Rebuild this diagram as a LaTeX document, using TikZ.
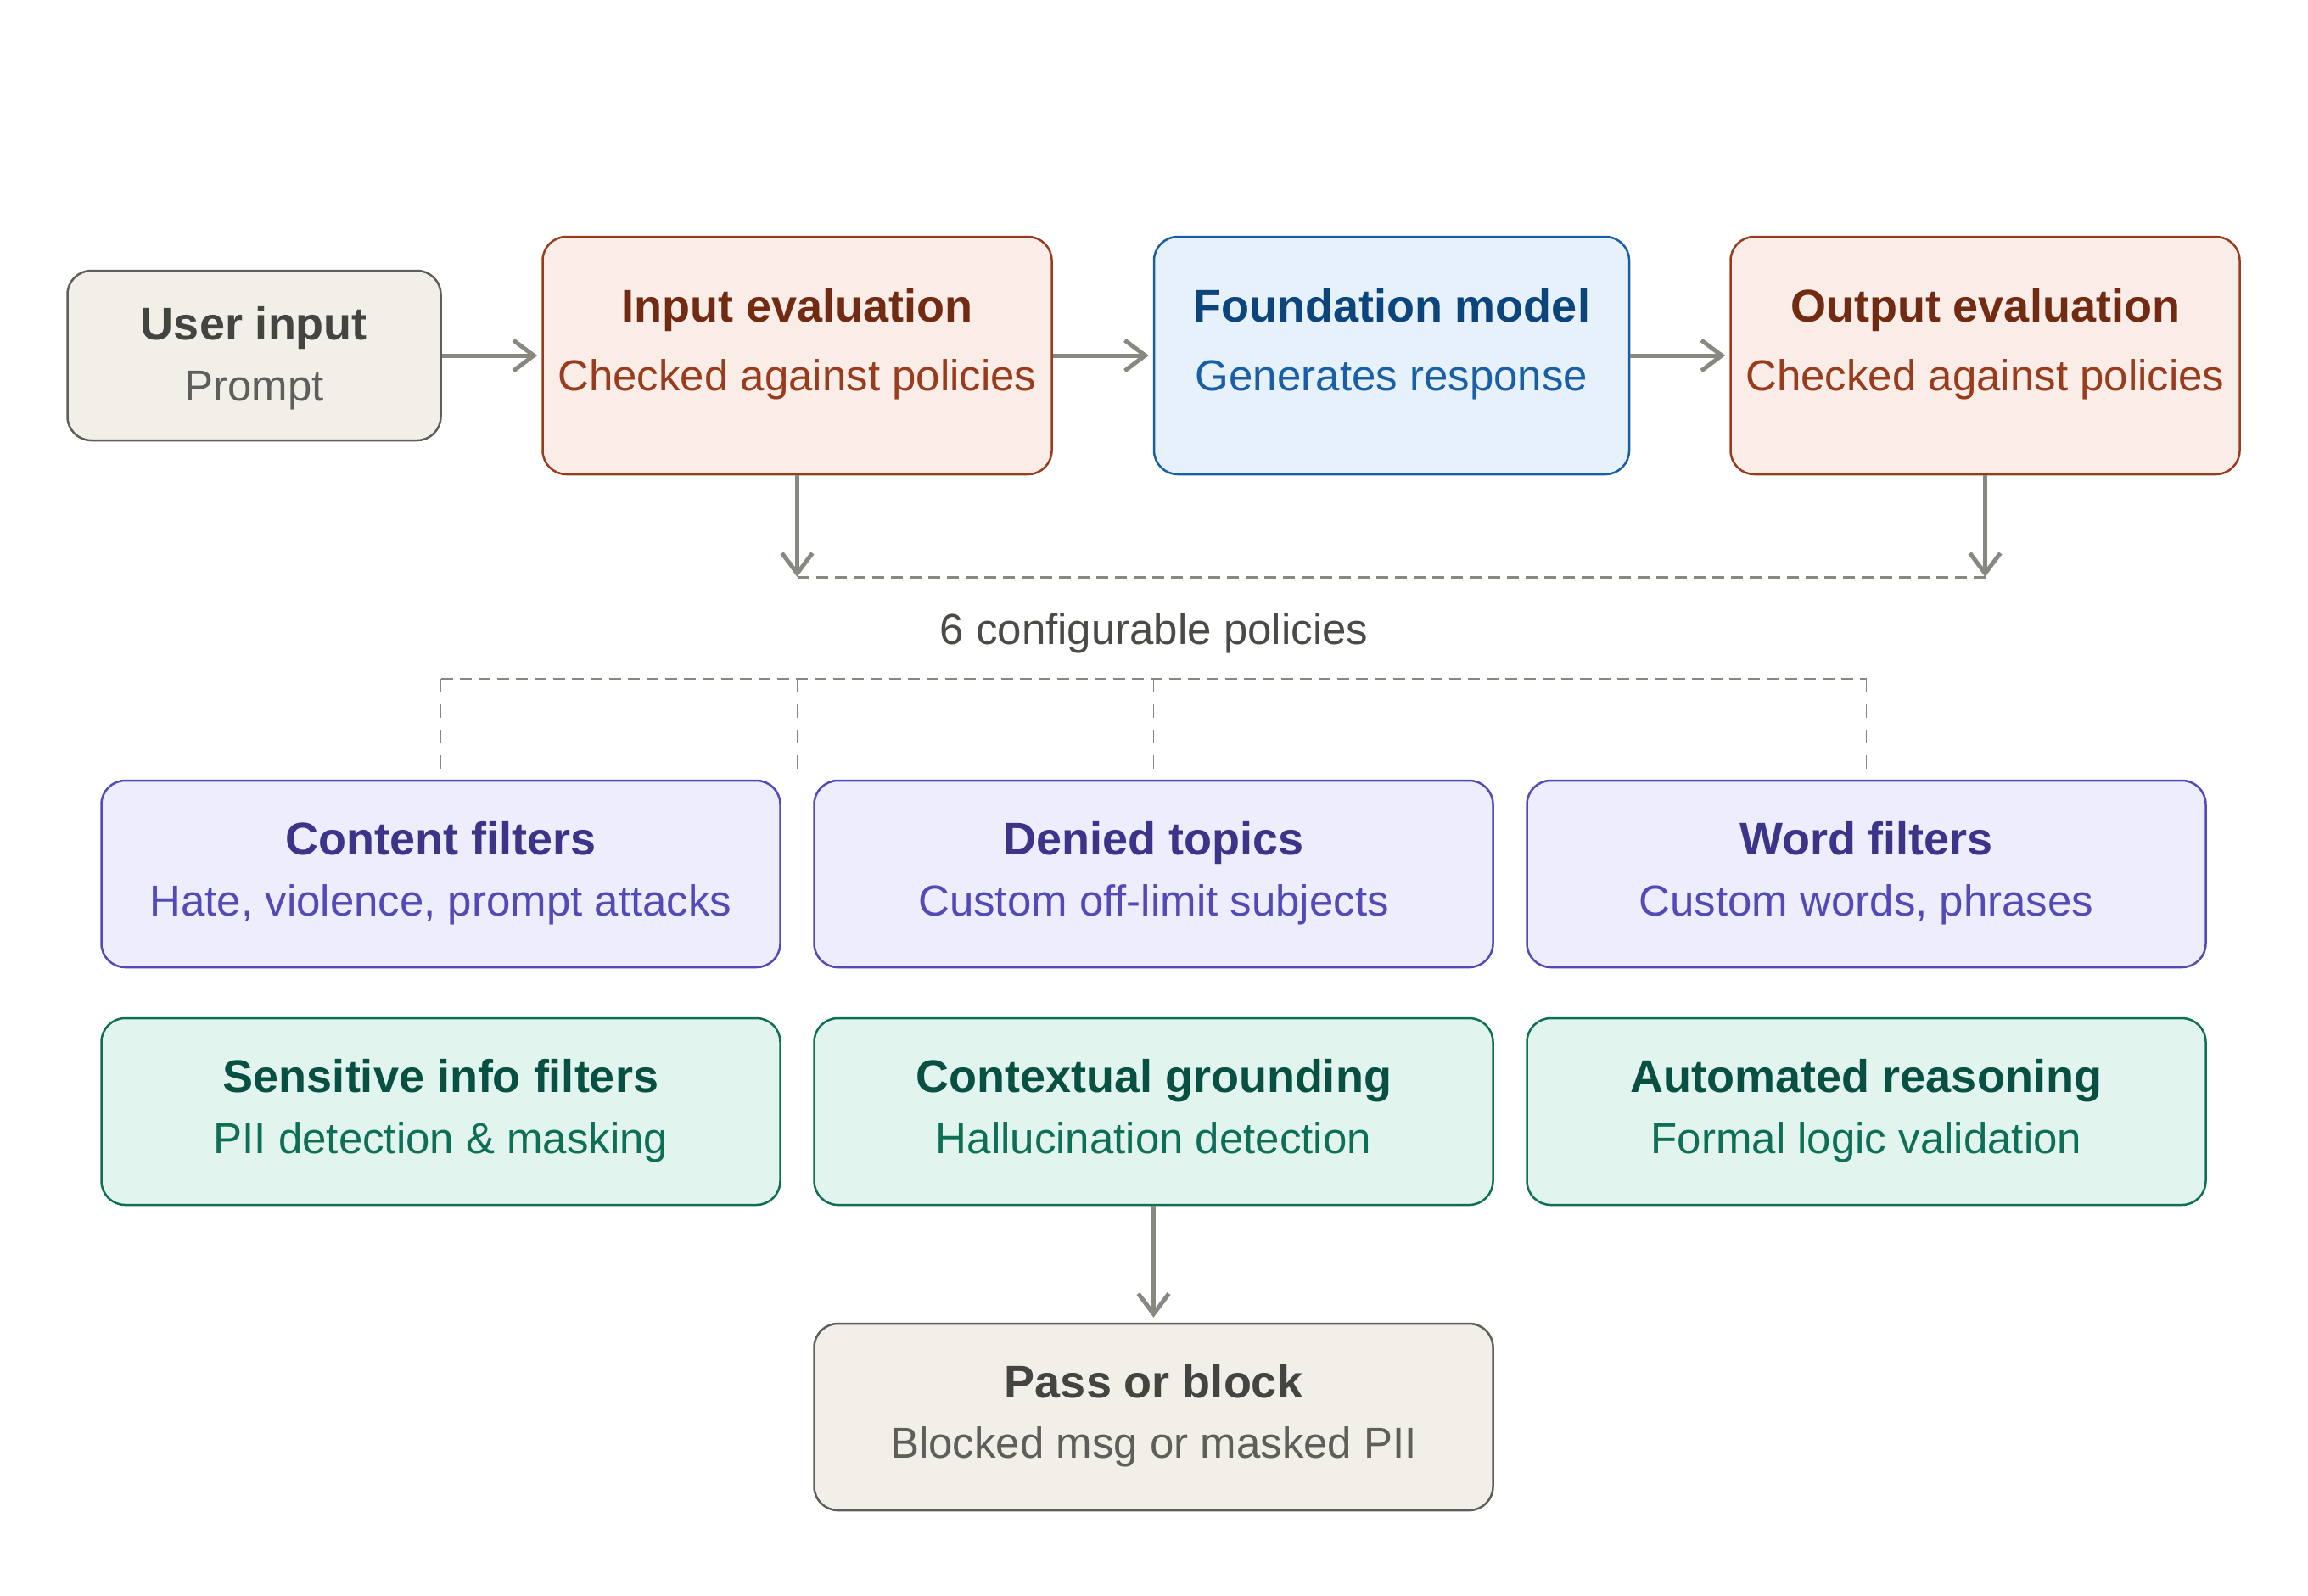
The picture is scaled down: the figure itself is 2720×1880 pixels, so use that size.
\documentclass[tikz,border=0pt]{standalone}
\usepackage{fontspec}
\setmainfont{Liberation Sans}
\usetikzlibrary{arrows.meta}
\definecolor{grayfill}{HTML}{F1EFE8}
\definecolor{graydraw}{HTML}{5F5E5A}
\definecolor{graytitle}{HTML}{444441}
\definecolor{graysub}{HTML}{5F5E5A}
\definecolor{corfill}{HTML}{FAECE7}
\definecolor{cordraw}{HTML}{993C1D}
\definecolor{cortitle}{HTML}{712B13}
\definecolor{blufill}{HTML}{E6F1FB}
\definecolor{bludraw}{HTML}{185FA5}
\definecolor{blutitle}{HTML}{0C447C}
\definecolor{purfill}{HTML}{EEEDFE}
\definecolor{purdraw}{HTML}{534AB7}
\definecolor{purtitle}{HTML}{3C3489}
\definecolor{grnfill}{HTML}{E1F5EE}
\definecolor{grndraw}{HTML}{0F6E56}
\definecolor{grntitle}{HTML}{085041}
\definecolor{linegray}{HTML}{888780}
\definecolor{labelgray}{HTML}{4A4A46}
\tikzset{
  box/.style={draw, rounded corners=28pt, line width=2.5pt, inner sep=0pt},
  topbox/.style={box, minimum width=600pt, minimum height=280pt},
  polbox/.style={box, minimum width=800pt, minimum height=220pt},
  gbox/.style={fill=grayfill, draw=graydraw},
  cbox/.style={fill=corfill, draw=cordraw},
  bbox/.style={fill=blufill, draw=bludraw},
  pbox/.style={fill=purfill, draw=purdraw},
  nbox/.style={fill=grnfill, draw=grndraw},
  ttl/.style={anchor=base, inner sep=0pt, font=\fontsize{54}{60}\selectfont\bfseries},
  sub/.style={anchor=base, inner sep=0pt, font=\fontsize{51}{58}\selectfont},
  arr/.style={draw=linegray, line width=5pt, -{Straight Barb[length=24pt,width=36pt]}},
  dashmain/.style={draw=linegray, line width=3pt, dash pattern=on 14pt off 8pt},
  dashthin/.style={draw=linegray, line width=1.8pt, dash pattern=on 16pt off 14pt},
}
\begin{document}
\begin{tikzpicture}[x=1pt,y=-1pt]
\useasboundingbox[fill=white] (0,0) rectangle (2720,1880);

% top row
\node[box, gbox, minimum width=440pt, minimum height=200pt] (ui) at (299.5,419) {};
\node[topbox, cbox] (ie) at (939.5,419) {};
\node[topbox, bbox, minimum width=560pt] (fm) at (1640,419) {};
\node[topbox, cbox] (oe) at (2339.5,419) {};

\node[ttl, text=graytitle] (uit) at (299.5,400) {User input};
\node[sub, text=graysub] (uis) at (299.5,472) {Prompt};
\node[ttl, text=cortitle] (iet) at (939.5,379) {Input evaluation};
\node[sub, text=cordraw] (ies) at (939.5,460) {Checked against policies};
\node[ttl, text=blutitle] (fmt) at (1640,379) {Foundation model};
\node[sub, text=bludraw] (fms) at (1640,460) {Generates response};
\node[ttl, text=cortitle] (oet) at (2339.5,379) {Output evaluation};
\node[sub, text=cordraw] (oes) at (2339.5,460) {Checked against policies};

\draw[arr, shorten >=5pt] (ui) -- (ie);
\draw[arr, shorten >=5pt] (ie) -- (fm);
\draw[arr, shorten >=5pt] (fm) -- (oe);

% collectors
\coordinate (c1) at (939.5,680);
\coordinate (c2) at (2339.5,680);
\draw[arr] (ie) -- (c1);
\draw[arr] (oe) -- (c2);
\draw[dashmain] (c1) -- (c2);

\node[sub, text=labelgray] (lbl) at (1360,759) {6 configurable policies};

% policy boxes
\node[polbox, pbox] (cf) at (519.5,1030) {};
\node[polbox, pbox] (dt) at (1359.5,1030) {};
\node[polbox, pbox] (wf) at (2199.5,1030) {};
\node[polbox, nbox] (si) at (519.5,1310) {};
\node[polbox, nbox] (cg) at (1359.5,1310) {};
\node[polbox, nbox] (ar) at (2199.5,1310) {};

\node[ttl, text=purtitle] (cft) at (519.5,1007) {Content filters};
\node[sub, text=purdraw] (cfs) at (519.5,1079) {Hate, violence, prompt attacks};
\node[ttl, text=purtitle] (dtt) at (1359.5,1007) {Denied topics};
\node[sub, text=purdraw] (dts) at (1359.5,1079) {Custom off-limit subjects};
\node[ttl, text=purtitle] (wft) at (2199.5,1007) {Word filters};
\node[sub, text=purdraw] (wfs) at (2199.5,1079) {Custom words, phrases};
\node[ttl, text=grntitle] (sit) at (519.5,1287) {Sensitive info filters};
\node[sub, text=grndraw] (sis) at (519.5,1359) {PII detection \& masking};
\node[ttl, text=grntitle] (cgt) at (1359.5,1287) {Contextual grounding};
\node[sub, text=grndraw] (cgs) at (1359.5,1359) {Hallucination detection};
\node[ttl, text=grntitle] (art) at (2199.5,1287) {Automated reasoning};
\node[sub, text=grndraw] (ars) at (2199.5,1359) {Formal logic validation};

% distribution lines
\coordinate (d1) at (519.5,800);
\coordinate (d2) at (940,800);
\coordinate (d2e) at (940,920);
\coordinate (d3) at (1359.5,800);
\coordinate (d4) at (2199.5,800);
\draw[dashmain] (d1) -- (d4);
\draw[dashthin] (d1) -- (cf.north);
\draw[dashthin] (d2) -- (d2e);
\draw[dashthin] (d3) -- (dt.north);
\draw[dashthin] (d4) -- (wf.north);

% result
\node[polbox, gbox] (pb) at (1359.5,1670) {};
\node[ttl, text=graytitle] (pbt) at (1359.5,1647) {Pass or block};
\node[sub, text=graysub] (pbs) at (1359.5,1718) {Blocked msg or masked PII};
\draw[arr, shorten >=6pt] (cg) -- (pb);
\end{tikzpicture}
\end{document}
